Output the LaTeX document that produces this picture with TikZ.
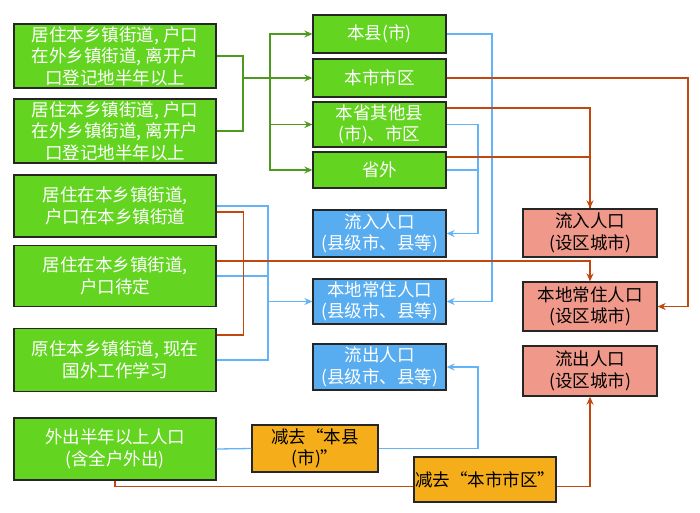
\documentclass[tikz,border=0pt]{standalone}
\usepackage{fontspec}
\setmainfont{Noto Sans CJK SC}
\usetikzlibrary{positioning}
\usetikzlibrary{calc}
\usetikzlibrary{arrows.meta}
\definecolor{boxgreen}{HTML}{63D520}
\definecolor{boxblue}{HTML}{58ACF0}
\definecolor{boxpink}{HTML}{F0998A}
\definecolor{boxorange}{HTML}{F5AE1A}
\definecolor{linegreen}{HTML}{4E9A1E}
\definecolor{lineblue}{HTML}{62B4F6}
\definecolor{linered}{HTML}{C0480F}

\begin{document}
\begin{tikzpicture}
			[
				x = 1pt, y = -1pt,
				mybox/.style = {draw = black!85, line width = 1.3pt, rectangle, align = center, inner sep = 1pt, font = \fontsize{17.5}{21.5}\selectfont},
				srcbox/.style = {mybox, fill = boxgreen, text = white, minimum width = 202pt},
				destbox/.style = {mybox, fill = boxgreen, text = white, minimum width = 133pt},
				countybox/.style = {mybox, fill = boxblue, text = white, minimum width = 133pt},
				citybox/.style = {mybox, fill = boxpink, text = black, minimum width = 134pt},
				minusbox/.style = {mybox, fill = boxorange, text = black},
				gline/.style = {linegreen, line width = 1.3pt},
				bline/.style = {lineblue, line width = 1.3pt},
				rline/.style = {linered, line width = 1.3pt},
				myarrow/.style = {-{Stealth[length = 8pt, width = 7pt]}}
			]
			\useasboundingbox (0,0) rectangle (700,512);
			%
			% left column
			\node (live1) [srcbox, minimum height = 64pt] at (115,56) {居住本乡镇街道, 户口\\在外乡镇街道, 离开户\\口登记地半年以上};
			\node (live2) [srcbox, minimum height = 64pt] at (115,131) {居住本乡镇街道, 户口\\在外乡镇街道, 离开户\\口登记地半年以上};
			\node (local) [srcbox, minimum height = 62pt] at (115,206) {居住在本乡镇街道,\\户口在本乡镇街道};
			\node (pending) [srcbox, minimum height = 61pt] at (115,276) {居住在本乡镇街道,\\户口待定};
			\node (abroad) [srcbox, minimum height = 63pt] at (115,360) {原住本乡镇街道, 现在\\国外工作学习};
			\node (away) [srcbox, minimum height = 62pt] at (115,449) {外出半年以上人口\\(含全户外出)};
			%
			% where the household register is
			\node (county) [destbox, minimum height = 38pt] at (379.5,34) {本县(市)};
			\node (district) [destbox, minimum height = 38pt] at (379.5,78) {本市市区};
			\node (province) [destbox, minimum height = 45pt] at (379.5,124.5) {本省其他县\\(市)、市区};
			\node (outside) [destbox, minimum height = 36pt] at (379.5,170) {省外};
			%
			% county level results
			\node (cin) [countybox, minimum height = 47pt] at (379.5,233.5) {流入人口\\(县级市、县等)};
			\node (cres) [countybox, minimum height = 45pt] at (379.5,301.5) {本地常住人口\\(县级市、县等)};
			\node (cout) [countybox, minimum height = 46pt] at (379.5,367) {流出人口\\(县级市、县等)};
			%
			% city level results
			\node (din) [citybox, minimum height = 48pt] at (590,233) {流入人口\\(设区城市)};
			\node (dres) [citybox, minimum height = 49pt] at (590,306.5) {本地常住人口\\(设区城市)};
			\node (dout) [citybox, minimum height = 50pt] at (590,371) {流出人口\\(设区城市)};
			%
			% subtractions
			\node (minuscounty) [minusbox, minimum width = 126pt, minimum height = 47pt] at (315,448.5) {减去“本县\\(市)”};
			\node (minuscity) [minusbox, minimum width = 142pt, minimum height = 45pt] at (485,479.5) {减去“本市市区”};
			%
			% green split
			\coordinate (gjoin) at (243,78);
			\coordinate (gbus) at (270,78);
			\draw [gline] (live1.east) -| (gjoin);
			\draw [gline] (live2.east) -| (gjoin);
			\draw [gline] (gjoin) -- (gbus);
			\draw [gline, myarrow] (gbus) |- (county.west);
			\draw [gline, myarrow] (gbus) -- (district.west);
			\draw [gline, myarrow] (gbus) |- (province.west);
			\draw [gline, myarrow] (gbus) |- (outside.west);
			%
			% county level
			\coordinate (bright) at (492,301.5);
			\draw [bline, myarrow] (county.east) -| (bright) -- (cres.east);
			\coordinate (bmid) at (478,233.5);
			\draw [bline] (outside.east) -| (bmid);
			\draw [bline, myarrow] (province.east) -| (bmid) -- (cin.east);
			\coordinate (bleft) at (268,301.5);
			\draw [bline] (local.east) -| (bleft);
			\draw [bline] (abroad.east) -| (bleft);
			\draw [bline] (pending.east) -- (pending.east -| bleft);
			\draw [bline, myarrow] (bleft) -- (cres.west);
			\draw [bline] (away.east) -- (minuscounty.west);
			\draw [bline, myarrow] (minuscounty.east) -| (478,367) -- (cout.east);
			%
			% city level
			\draw [rline, myarrow] (district.east) -| (688,306.5) -- (dres.east);
			\draw [rline] ($(outside.east)+(0,-13)$) -| (din.north);
			\draw [rline, myarrow] ($(province.east)+(0,-16.5)$) -| (din.north);
			\draw [rline] ($(local.east)+(0,6)$) -- ++(27,0) |- ($(abroad.east)+(0,-25)$);
			\draw [rline, myarrow] ($(pending.east)+(0,-15)$) -| (dres.north);
			\draw [rline] (away.south) |- ($(minuscity.west)+(0,7)$);
			\draw [rline, myarrow] ($(minuscity.east)+(0,7)$) -| (dout.south);
			%
		\end{tikzpicture}
\end{document}
